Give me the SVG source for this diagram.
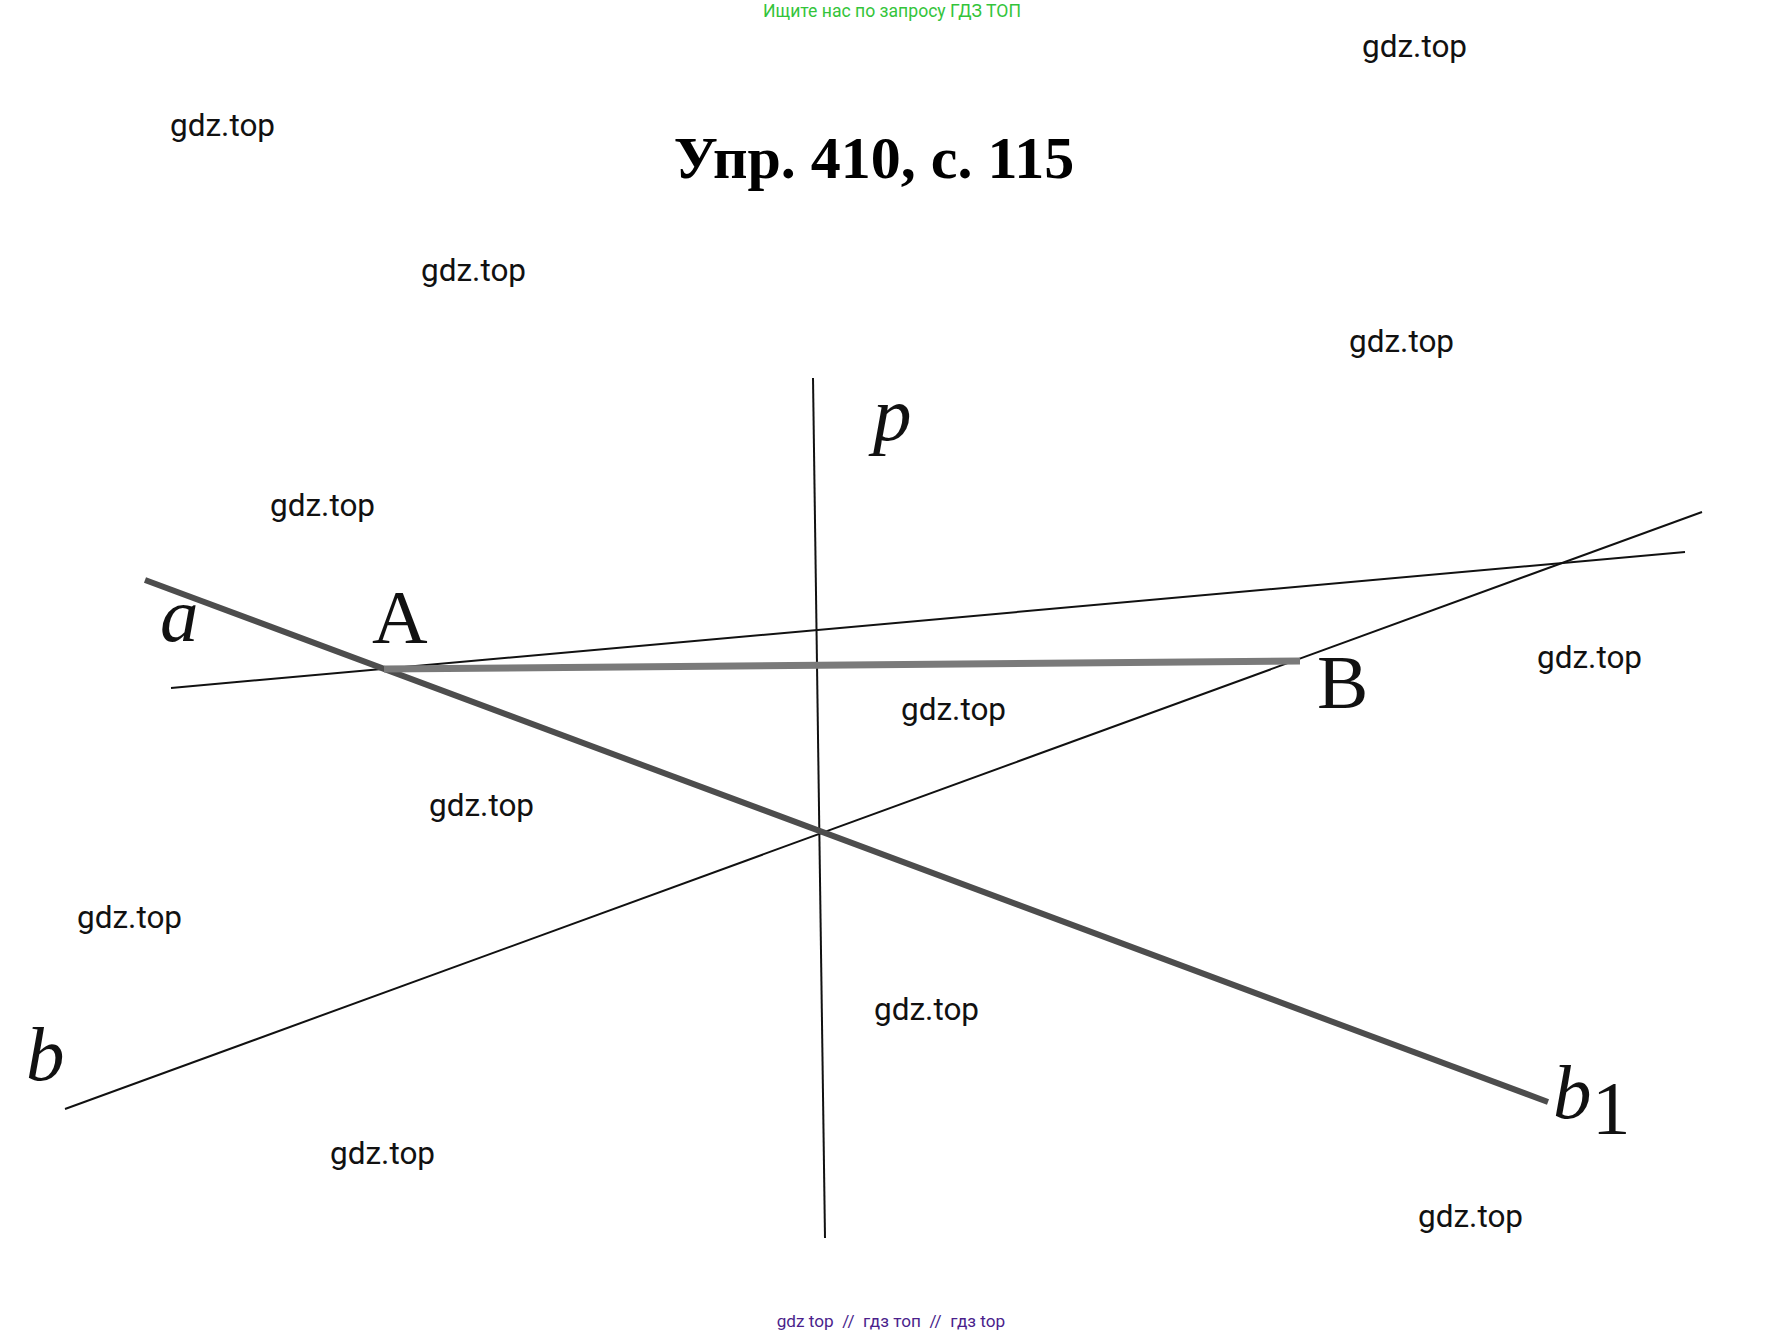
<svg xmlns="http://www.w3.org/2000/svg" width="1784" height="1336" viewBox="0 0 1784 1336">
  <style>
    .wm { font-family: Roboto, "Liberation Sans", sans-serif; font-size: 31.5px; fill: #111; }
    .lbl { font-family: "Liberation Serif", "Times New Roman", serif; font-size: 77px; fill: #111; }
    .it { font-style: italic; }
    .thin { stroke: #111; stroke-width: 2; fill: none; }
    .thick { stroke: #4d4d4d; stroke-width: 6; fill: none; }
    .seg { stroke: #7a7a7a; stroke-width: 7; fill: none; }
  </style>
  <rect width="1784" height="1336" fill="#ffffff"/>

  <text x="892" y="17" text-anchor="middle" font-family="Roboto, 'Liberation Sans', sans-serif" font-size="17.6" fill="#33c43a">Ищите нас по запросу ГДЗ ТОП</text>
  <text x="874" y="178" text-anchor="middle" font-family="'Liberation Serif', 'Times New Roman', serif" font-size="60" font-weight="bold" fill="#000">Упр. 410, с. 115</text>

  <g id="connectors">
    <line id="line-p" class="thin" x1="813" y1="378" x2="825" y2="1238"/>
    <line id="line-a" class="thin" x1="171" y1="688" x2="1685" y2="552"/>
    <line id="line-b" class="thin" x1="65" y1="1109" x2="1702" y2="512"/>
    <line id="line-b1" class="thick" x1="145" y1="580" x2="1548" y2="1102"/>
    <line id="segment-AB" class="seg" x1="384" y1="669" x2="1300" y2="661"/>
  </g>

  <g id="label-a"><text class="lbl it" x="160" y="641">a</text></g>
  <g id="label-A"><text class="lbl" x="372" y="643">A</text></g>
  <g id="label-p"><text class="lbl it" x="873" y="440">p</text></g>
  <g id="label-B"><text class="lbl" x="1317" y="708">B</text></g>
  <g id="label-b"><text class="lbl it" x="26" y="1080">b</text></g>
  <g id="label-b1"><text class="lbl it" x="1553" y="1118">b</text><text class="lbl" x="1592" y="1134" font-size="41">1</text></g>

  <g id="watermarks">
    <text class="wm" x="1362" y="57">gdz.top</text>
    <text class="wm" x="170" y="136">gdz.top</text>
    <text class="wm" x="421" y="281">gdz.top</text>
    <text class="wm" x="1349" y="352">gdz.top</text>
    <text class="wm" x="270" y="516">gdz.top</text>
    <text class="wm" x="1537" y="668">gdz.top</text>
    <text class="wm" x="901" y="720">gdz.top</text>
    <text class="wm" x="429" y="816">gdz.top</text>
    <text class="wm" x="77" y="928">gdz.top</text>
    <text class="wm" x="874" y="1020">gdz.top</text>
    <text class="wm" x="330" y="1164">gdz.top</text>
    <text class="wm" x="1418" y="1227">gdz.top</text>
  </g>

  <text x="891" y="1327" text-anchor="middle" font-family="Roboto, 'Liberation Sans', sans-serif" font-size="17.2" fill="#4b1f8c">gdz top&#160;&#160;//&#160;&#160;гдз топ&#160;&#160;//&#160;&#160;гдз top</text>
</svg>
